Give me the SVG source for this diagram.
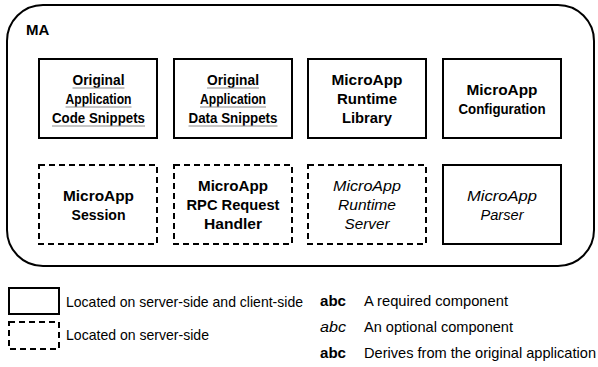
<svg xmlns="http://www.w3.org/2000/svg" width="598" height="367" viewBox="0 0 598 367">
  <style>
    .frame { fill: #fff; stroke: #000; stroke-width: 2; }
    .box { fill: #fff; stroke: #000; stroke-width: 2; }
    .dash { fill: #fff; stroke: #000; stroke-width: 2; stroke-dasharray: 6 4; }
    text { font-family: "Liberation Sans", Arial, sans-serif; fill: #000; }
    .lbl { font-size: 15px; font-weight: bold; text-anchor: middle; }
    .opt { font-size: 15px; font-style: italic; text-anchor: middle; }
    .ul { stroke: #8c8c8c; stroke-width: 1; }
    .leg { font-size: 14.5px; }
    .abc { font-size: 15px; }
  </style>
  <rect width="598" height="367" fill="#fff"/>

  <!-- MA container -->
  <g id="ma">
    <rect class="frame" x="7" y="5" width="587" height="261" rx="36" ry="36"/>
    <text x="26" y="35" font-size="15" font-weight="bold">MA</text>
  </g>

  <!-- row 1: components present on both sides -->
  <g id="code-snippets">
    <rect class="box" x="39" y="59" width="118" height="79"/>
    <text class="lbl" x="98.5" y="85" textLength="52" lengthAdjust="spacingAndGlyphs">Original</text>
    <text class="lbl" x="98.5" y="104" textLength="66" lengthAdjust="spacingAndGlyphs">Application</text>
    <text class="lbl" x="98.5" y="123" textLength="93" lengthAdjust="spacingAndGlyphs">Code Snippets</text>
    <line class="ul" x1="72.5" y1="88" x2="124.5" y2="88"/>
    <line class="ul" x1="65.5" y1="107" x2="131.5" y2="107"/>
    <line class="ul" x1="52" y1="126" x2="145" y2="126"/>
  </g>
  <g id="data-snippets">
    <rect class="box" x="174" y="59" width="118" height="79"/>
    <text class="lbl" x="233" y="85" textLength="52" lengthAdjust="spacingAndGlyphs">Original</text>
    <text class="lbl" x="233" y="104" textLength="66" lengthAdjust="spacingAndGlyphs">Application</text>
    <text class="lbl" x="233" y="123" textLength="89" lengthAdjust="spacingAndGlyphs">Data Snippets</text>
    <line class="ul" x1="207" y1="88" x2="259" y2="88"/>
    <line class="ul" x1="200" y1="107" x2="266" y2="107"/>
    <line class="ul" x1="188.5" y1="126" x2="277.5" y2="126"/>
  </g>
  <g id="runtime-library">
    <rect class="box" x="308" y="59" width="118" height="79"/>
    <text class="lbl" x="367" y="85" textLength="71" lengthAdjust="spacingAndGlyphs">MicroApp</text>
    <text class="lbl" x="367" y="104" textLength="60" lengthAdjust="spacingAndGlyphs">Runtime</text>
    <text class="lbl" x="367" y="123" textLength="50" lengthAdjust="spacingAndGlyphs">Library</text>
  </g>
  <g id="configuration">
    <rect class="box" x="443" y="59" width="118" height="79"/>
    <text class="lbl" x="502" y="94.5" textLength="71" lengthAdjust="spacingAndGlyphs">MicroApp</text>
    <text class="lbl" x="502" y="113.5" textLength="87" lengthAdjust="spacingAndGlyphs">Configuration</text>
  </g>

  <!-- row 2 -->
  <g id="session">
    <rect class="dash" x="39" y="165" width="118" height="79"/>
    <text class="lbl" x="98.5" y="200.5" textLength="71" lengthAdjust="spacingAndGlyphs">MicroApp</text>
    <text class="lbl" x="98.5" y="219.5" textLength="54" lengthAdjust="spacingAndGlyphs">Session</text>
  </g>
  <g id="rpc-handler">
    <rect class="dash" x="174" y="165" width="118" height="79"/>
    <text class="lbl" x="233" y="191" textLength="70" lengthAdjust="spacingAndGlyphs">MicroApp</text>
    <text class="lbl" x="233" y="210" textLength="93" lengthAdjust="spacingAndGlyphs">RPC Request</text>
    <text class="lbl" x="233" y="229" textLength="58" lengthAdjust="spacingAndGlyphs">Handler</text>
  </g>
  <g id="runtime-server">
    <rect class="dash" x="308" y="165" width="118" height="79"/>
    <text class="opt" x="367" y="191" textLength="68" lengthAdjust="spacingAndGlyphs">MicroApp</text>
    <text class="opt" x="367" y="210" textLength="58" lengthAdjust="spacingAndGlyphs">Runtime</text>
    <text class="opt" x="367" y="229" textLength="45" lengthAdjust="spacingAndGlyphs">Server</text>
  </g>
  <g id="parser">
    <rect class="box" x="443" y="165" width="118" height="79"/>
    <text class="opt" x="502" y="200.5" textLength="70" lengthAdjust="spacingAndGlyphs">MicroApp</text>
    <text class="opt" x="502" y="219.5" textLength="43" lengthAdjust="spacingAndGlyphs">Parser</text>
  </g>

  <!-- legend -->
  <g id="legend">
    <rect class="box" x="9" y="288" width="50" height="26"/>
    <text class="leg" x="66" y="307" textLength="237" lengthAdjust="spacingAndGlyphs">Located on server-side and client-side</text>
    <rect class="dash" x="9" y="322" width="50" height="27"/>
    <text class="leg" x="66" y="340" textLength="143" lengthAdjust="spacingAndGlyphs">Located on server-side</text>

    <text class="abc" x="320" y="306" font-weight="bold" textLength="26" lengthAdjust="spacingAndGlyphs">abc</text>
    <text class="leg" x="364" y="306" textLength="144" lengthAdjust="spacingAndGlyphs">A required component</text>
    <text class="abc" x="320" y="332" font-style="italic" textLength="26" lengthAdjust="spacingAndGlyphs">abc</text>
    <text class="leg" x="364" y="332" textLength="149" lengthAdjust="spacingAndGlyphs">An optional component</text>
    <text class="abc" x="320" y="358" font-weight="bold" textLength="26" lengthAdjust="spacingAndGlyphs">abc</text>
    <text class="leg" x="364" y="358" textLength="232" lengthAdjust="spacingAndGlyphs">Derives from the original application</text>
  </g>
</svg>
